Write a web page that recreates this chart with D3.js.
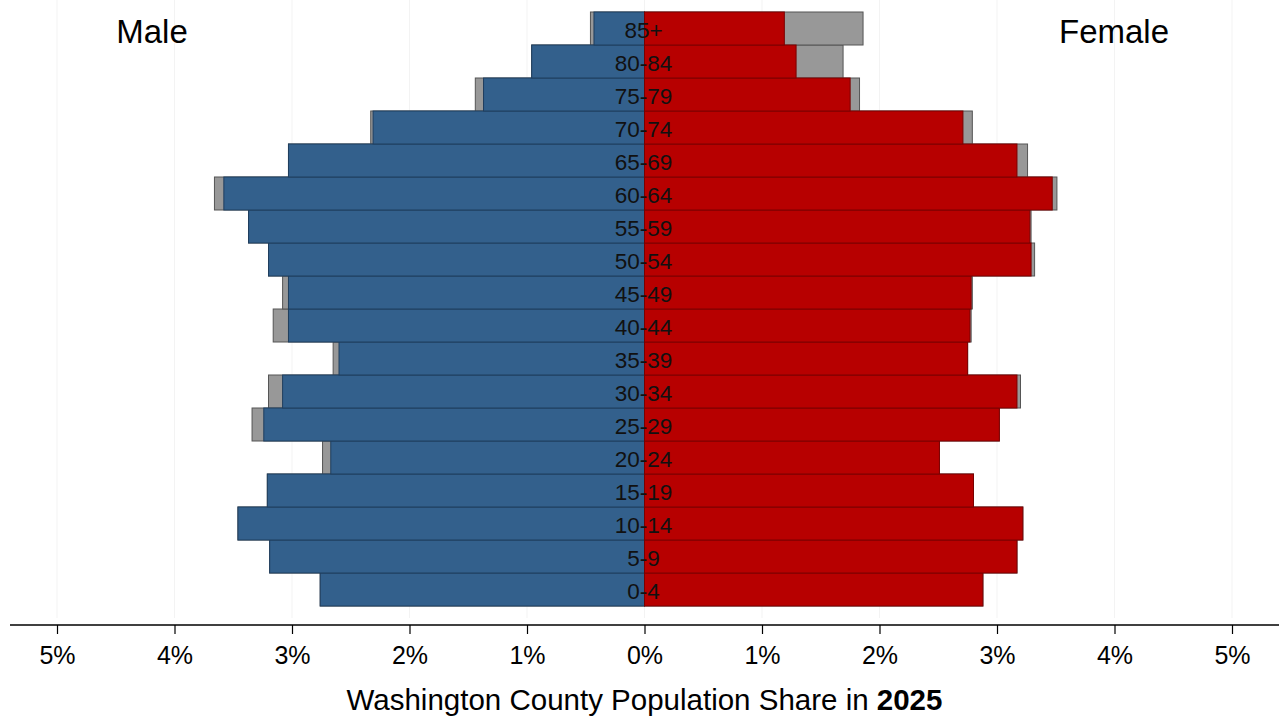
<!DOCTYPE html>
<html><head><meta charset="utf-8">
<script src="https://cdn.jsdelivr.net/npm/d3@7"></script>
<style>body{margin:0;background:#fff;} svg{display:block;font-family:"Liberation Sans",Arial,sans-serif;}</style>
</head><body>
<svg id="c" width="1281" height="721"></svg>
<script>
const ages = ["0-4","5-9","10-14","15-19","20-24","25-29","30-34","35-39","40-44","45-49","50-54","55-59","60-64","65-69","70-74","75-79","80-84","85+"];
const maleShare   = [2.76,3.19,3.46,3.21,2.67,3.24,3.08,2.60,3.03,3.03,3.20,3.37,3.58,3.03,2.31,1.37,0.96,0.43];
const maleRef     = [2.76,3.19,3.46,3.21,2.74,3.34,3.20,2.65,3.16,3.08,3.20,3.37,3.66,3.03,2.33,1.44,0.96,0.46];
const femaleShare = [2.88,3.17,3.22,2.80,2.51,3.02,3.17,2.75,2.77,2.78,3.29,3.28,3.47,3.17,2.71,1.75,1.29,1.19];
const femaleRef   = [2.88,3.17,3.22,2.80,2.51,3.02,3.20,2.75,2.78,2.79,3.32,3.29,3.51,3.26,2.79,1.83,1.69,1.86];
const ticks = [-5,-4,-3,-2,-1,0,1,2,3,4,5];

const svg = d3.select("#c");
const x = d3.scaleLinear().domain([-5,5]).range([57,1232]);
const y = d3.scaleBand().domain(ages.slice().reverse()).range([12,606]).padding(0);

// faint gridlines
svg.append("g").selectAll("line").data(ticks).join("line")
  .attr("x1",d=>x(d)).attr("x2",d=>x(d)).attr("y1",0).attr("y2",618)
  .attr("stroke","#f3f3f3").attr("stroke-width",1);

const rows = ages.map((a,i)=>({a,m:maleShare[i],mr:maleRef[i],f:femaleShare[i],fr:femaleRef[i]}));
const g = svg.append("g");
// gray reference bars behind
g.selectAll("rect.mg").data(rows).join("rect").attr("class","mg")
  .attr("x",d=>x(-d.mr)).attr("width",d=>x(0)-x(-d.mr))
  .attr("y",d=>y(d.a)).attr("height",y.bandwidth())
  .attr("fill","#989898").attr("stroke","#555").attr("stroke-width",1);
g.selectAll("rect.fg").data(rows).join("rect").attr("class","fg")
  .attr("x",x(0)).attr("width",d=>x(d.fr)-x(0))
  .attr("y",d=>y(d.a)).attr("height",y.bandwidth())
  .attr("fill","#989898").attr("stroke","#555").attr("stroke-width",1);
// colored bars
g.selectAll("rect.m").data(rows).join("rect").attr("class","m")
  .attr("x",d=>x(-d.m)).attr("width",d=>x(0)-x(-d.m))
  .attr("y",d=>y(d.a)).attr("height",y.bandwidth())
  .attr("fill","#33608c").attr("stroke","#1f3e5e").attr("stroke-width",1);
g.selectAll("rect.f").data(rows).join("rect").attr("class","f")
  .attr("x",x(0)).attr("width",d=>x(d.f)-x(0))
  .attr("y",d=>y(d.a)).attr("height",y.bandwidth())
  .attr("fill","#b70000").attr("stroke","#7a0000").attr("stroke-width",1);

// age labels
svg.append("g").selectAll("text").data(ages).join("text")
  .attr("x",x(0)-1).attr("y",d=>y(d)+y.bandwidth()/2+1).attr("dy","0.36em")
  .attr("text-anchor","middle").attr("font-size",22.5).attr("fill","#111").text(d=>d);

// axis
const ax = d3.axisBottom(x).tickValues(ticks).tickFormat(d=>Math.abs(d)+"%").tickSize(9).tickPadding(12).tickSizeOuter(0);
const axg = svg.append("g").attr("transform","translate(0,625)").call(ax);
axg.select(".domain").remove();
axg.append("line").attr("x1",10).attr("x2",1279).attr("y1",0).attr("y2",0).attr("stroke","#000").attr("stroke-width",1.5);
axg.selectAll(".tick line").attr("stroke","#000").attr("stroke-width",1.2);
axg.selectAll(".tick text").attr("font-size",25).attr("fill","#000").attr("font-family","Liberation Sans, Arial, sans-serif");

// titles
const t = svg.append("text").attr("x",x(0)).attr("y",710).attr("text-anchor","middle").attr("font-size",29.5).attr("fill","#000");
t.append("tspan").text("Washington County Population Share in ");
t.append("tspan").attr("font-weight","bold").text("2025");

svg.append("text").attr("x",152).attr("y",43).attr("text-anchor","middle").attr("font-size",33).text("Male");
svg.append("text").attr("x",1114).attr("y",43).attr("text-anchor","middle").attr("font-size",33).text("Female");
</script>
</body></html>
